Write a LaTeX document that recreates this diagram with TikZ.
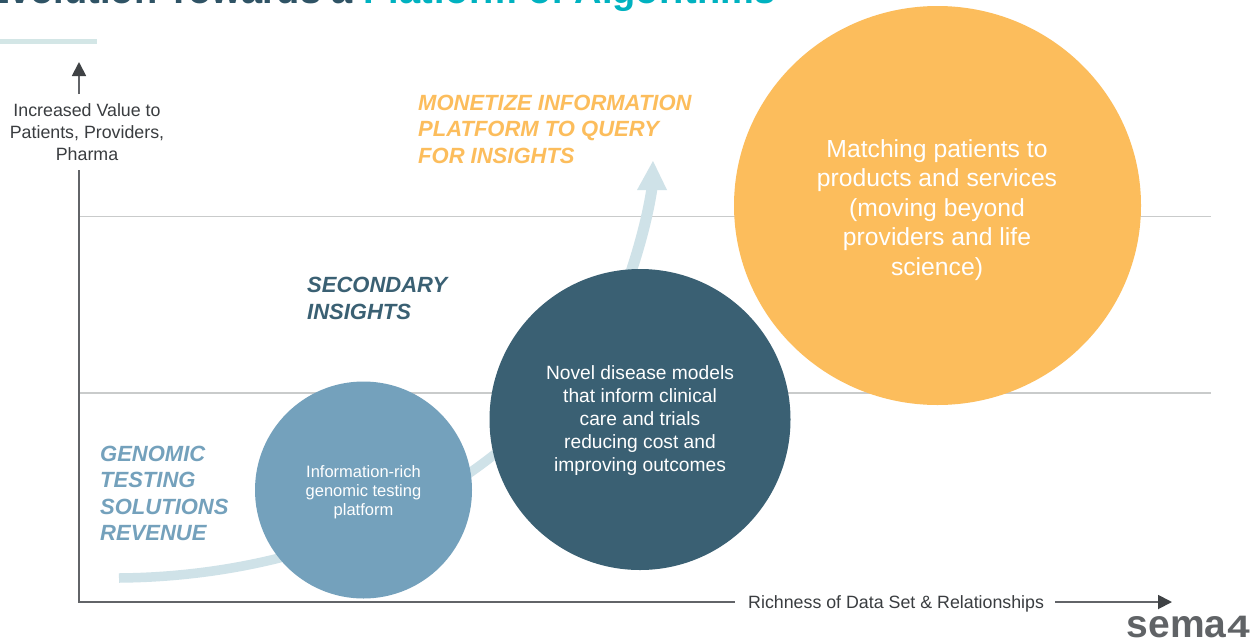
\documentclass[tikz,border=0pt]{standalone}
\usepackage{fontspec}
\setmainfont{Liberation Sans}
\usetikzlibrary{arrows.meta,shapes.geometric}
\definecolor{cgrid}{HTML}{C9CBCB}
\definecolor{caxis}{HTML}{626468}
\definecolor{chead}{HTML}{3F4245}
\definecolor{ctext}{HTML}{3A3D40}
\definecolor{cblue}{HTML}{74A1BC}
\definecolor{cdark}{HTML}{3A6073}
\definecolor{corange}{HTML}{FCBD5C}
\definecolor{cswoosh}{HTML}{CFE2E8}
\definecolor{cteal}{HTML}{00B2C0}
\definecolor{ctitle}{HTML}{2F5365}
\definecolor{cbar}{HTML}{D3E6E6}
\definecolor{cgreyl}{HTML}{606366}
\tikzset{x=1pt,y=-1pt,
 circ/.style={circle,inner sep=0pt,align=center,text=white},
 axislabel/.style={font=\fontsize{17.8}{22}\selectfont,text=ctext,align=center,inner sep=0pt},
 cat/.style={font=\fontsize{22}{26.3}\selectfont\bfseries\itshape,align=left,inner sep=0pt,anchor=north west},
 gridline/.style={draw=cgrid,line width=1.8pt},
 axisline/.style={draw=caxis,line width=1.8pt},
 headline/.style={axisline,-{Triangle[length=14pt,width=14pt,color=chead]}}}
\begin{document}
\begin{tikzpicture}
\useasboundingbox (0,0) rectangle (1260,643);
\fill[white] (0,0) rectangle (1260,643);
% title, cut by the page top
\node[anchor=base west,inner sep=0pt,font=\fontsize{38}{38}\selectfont\bfseries] (title) at (-16,3) {\textcolor{ctitle}{Evolution Towards a }\textcolor{cteal}{Platform of Algorithms}};
\fill[cbar] (0,39) rectangle (97,44);
% grid
\coordinate (g1l) at (79,216.5); \coordinate (g1r) at (1211,216.5);
\coordinate (g2l) at (79,393); \coordinate (g2r) at (1211,393);
\draw[gridline] (g1l) -- (g1r);
\draw[gridline] (g2l) -- (g2r);
% axes
\node[axislabel] (ylab) at (87,132) {Increased Value to\\Patients, Providers,\\Pharma};
\node[axislabel,anchor=west] (xlab) at (748,603.5) {Richness of Data Set \& Relationships};
\coordinate (orig) at (79,602);
\coordinate (ytop) at (79,62);
\coordinate (xend) at (1172,602);
\coordinate (ystem) at (79,94);
\coordinate (xstem) at (1055,602);
\draw[axisline] (79,170) -- (orig) -- (735,602);
\draw[headline] (ystem) -- (ytop);
\draw[headline] (xstem) -- (xend);
% swoosh
\coordinate (sw0) at (119,578);
\coordinate (swtip) at (653,161);
\draw[cswoosh,line width=9.5pt] (sw0) .. controls (240,577) and (380,545) .. (495,454);
\draw[cswoosh,line width=11pt] (630,275) .. controls (640,245) and (648,215) .. (652,188);
\fill[cswoosh] (swtip) -- (667,190) -- (637,190) -- cycle;
% circles
\node[ellipse,inner sep=0pt,fill=corange,minimum width=407pt,minimum height=399pt] (c3) at (937.5,205.5) {};
\node[circ,fill=cdark,minimum size=301pt] (c2) at (640,419.5) {};
\node[circ,fill=cblue,minimum size=217pt] (c1) at (363.5,490) {};
\node[text=white,align=center,inner sep=0pt,font=\fontsize{24.7}{29.4}\selectfont] (t3) at (937,210) {Matching patients to\\products and services\\(moving beyond\\providers and life\\science)};
\node[text=white,align=center,inner sep=0pt,font=\fontsize{19.2}{23}\selectfont] (t2) at (640,421) {Novel disease models\\that inform clinical\\care and trials\\reducing cost and\\improving outcomes};
\node[text=white,align=center,inner sep=0pt,font=\fontsize{16.5}{19.2}\selectfont] (t1) at (363.5,492) {Information-rich\\genomic testing\\platform};
% categories
\node[cat,text=cblue] (genomic) at (100,446) {GENOMIC\\TESTING\\SOLUTIONS\\REVENUE};
\node[cat,text=cdark,font=\fontsize{22}{27}\selectfont\bfseries\itshape] (secondary) at (307,277) {SECONDARY\\INSIGHTS};
\node[cat,text=corange] (monetize) at (418,95) {MONETIZE INFORMATION\\PLATFORM TO QUERY\\FOR INSIGHTS};
% logo
\node[anchor=base east,inner sep=0pt,font=\fontsize{39}{39}\selectfont\bfseries,text=cgreyl] (logo) at (1250,637) {sema\hspace{1pt}{\fontsize{31}{31}\selectfont\scalebox{1.3}[1]{4}}};
\end{tikzpicture}
\end{document}
